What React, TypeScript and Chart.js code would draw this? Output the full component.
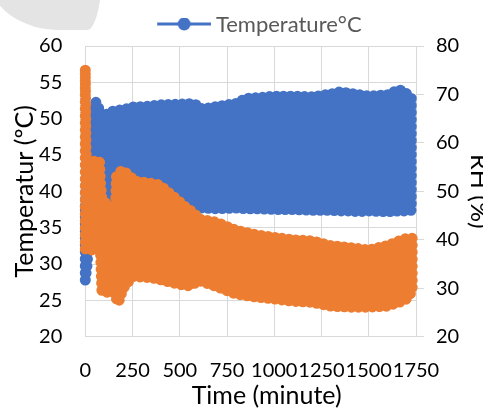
import React, { useEffect, useRef } from "react";
import { Chart, registerables } from "chart.js";

Chart.register(...registerables);

// ---- data ----
// Temperature (°C, left axis): upper / lower envelope of the dense oscillating series
const tempTime = [0, 10, 25, 57, 90, 140, 210, 250, 330, 400, 500, 575, 620, 700, 800, 850, 920, 1000, 1100, 1200, 1300, 1350, 1400, 1450, 1500, 1600, 1660, 1690, 1725];
const tempHigh = [38, 46, 50.5, 52.3, 50.3, 51.0, 51.3, 51.6, 51.7, 51.9, 52.0, 52.1, 51.3, 51.7, 52.1, 52.8, 52.9, 53.1, 53.1, 53.0, 53.4, 53.7, 53.5, 53.3, 53.1, 53.3, 54.0, 53.7, 52.8];
const tempLow = [27.8, 30.0, 37.5, 37.6, 37.6, 37.6, 37.6, 37.6, 37.6, 37.6, 37.6, 37.7, 37.7, 37.6, 37.7, 37.6, 37.6, 37.5, 37.5, 37.4, 37.4, 37.3, 37.3, 37.2, 37.3, 37.2, 37.3, 37.3, 37.4];

// RH (%, right axis): upper / lower envelope
const rhTime = [0, 1, 2, 3, 5, 30, 75, 80, 88, 110, 150, 160, 165, 175, 195, 210, 250, 263, 342, 395, 433, 486, 540, 570, 600, 697, 797, 898, 1000, 1100, 1200, 1300, 1400, 1500, 1597, 1676, 1700, 1730];
const rhHigh = [75, 69.5, 67.6, 61, 56.4, 56.2, 56.3, 52, 48.5, 47.5, 46.5, 47, 53.2, 53.6, 54.4, 54, 52.6, 52.1, 51.7, 51.3, 50.0, 48.3, 46.4, 45.8, 44.3, 43.6, 42.0, 41.1, 40.5, 40.0, 39.8, 38.8, 38.4, 37.9, 38.8, 40.0, 40.3, 40.3];
const rhLow = [38, 38, 38, 38, 38, 37.9, 37.9, 37.9, 29.2, 29.2, 29.2, 28.5, 27.8, 27.0, 29.4, 30.5, 32.4, 32.4, 32.2, 31.8, 31.4, 30.9, 30.5, 30.8, 31.6, 30.3, 28.8, 28.2, 27.8, 27.3, 27.1, 26.3, 26.1, 26.1, 26.3, 27.3, 27.8, 29.4];

const legendLabel = "Temperature°C";
const xTitle = "     Time (minute)";
const yTitle = "Temperatur (ºC)";
const y1Title = "RH (%)";

const BLUE = "#4472C4";
const ORANGE = "#ED7D31";
const GRID = "#d9d9d9";
const FONT = "Lato, 'Open Sans', sans-serif";

function makeLegendImage(): HTMLCanvasElement {
  const c = document.createElement("canvas");
  c.width = 96;
  c.height = 14;
  const ctx = c.getContext("2d")!;
  ctx.strokeStyle = BLUE;
  ctx.lineWidth = 3;
  ctx.beginPath();
  ctx.moveTo(42, 6);
  ctx.lineTo(96, 6);
  ctx.stroke();
  ctx.fillStyle = BLUE;
  ctx.beginPath();
  ctx.arc(69, 6, 6.5, 0, Math.PI * 2);
  ctx.fill();
  return c;
}

// closed outline of a band: upper envelope forward, lower envelope backward
function bandOutline(times: number[], high: number[], low: number[]) {
  const pts = times.map((x, i) => ({ x, y: high[i] }));
  for (let i = times.length - 1; i >= 0; i--) pts.push({ x: times[i], y: low[i] });
  pts.push({ x: times[0], y: high[0] });
  return pts;
}

// the band is filled, and its outline is stroked as a chain of round markers
function bandDataset(color: string, axis: string, label: string, times: number[], high: number[], low: number[], order: number) {
  return {
    label,
    data: bandOutline(times, high, low),
    yAxisID: axis,
    borderColor: color,
    backgroundColor: color,
    pointRadius: 0,
    pointHoverRadius: 0,
    borderWidth: 11,
    borderDash: [0, 7],
    borderJoinStyle: "round" as const,
    borderCapStyle: "round" as const,
    tension: 0,
    clip: false as any,
    fill: "shape" as any,
    order,
  };
}

export default function App() {
  const ref = useRef<HTMLCanvasElement>(null);

  useEffect(() => {
    const canvas = ref.current;
    if (!canvas) return;
    const img = makeLegendImage();
    const tickFont = { family: FONT, size: 20 };
    const titleFont = { family: FONT, size: 25, lineHeight: 1 };
    const chart = new Chart(canvas, {
      type: "line",
      data: {
        datasets: [
          bandDataset(BLUE, "y", legendLabel, tempTime, tempHigh, tempLow, 1),
          bandDataset(ORANGE, "y1", "RH", rhTime, rhHigh, rhLow, 0),
        ] as any,
      },
      options: {
        animation: false,
        responsive: false,
        events: [],
        layout: { padding: { top: -5, left: 0, right: 0, bottom: 0 } },
        plugins: {
          tooltip: { enabled: false },
          legend: {
            display: true,
            position: "top",
            labels: {
              usePointStyle: true,
              pointStyleWidth: 83.5,
              padding: 19,
              color: "#595959",
              font: { family: FONT, size: 22 },
              generateLabels: () => [
                {
                  text: legendLabel,
                  pointStyle: img as any,
                  fillStyle: BLUE,
                  strokeStyle: BLUE,
                  lineWidth: 0,
                  hidden: false,
                  datasetIndex: 0,
                  fontColor: "#595959",
                } as any,
              ],
            },
          },
        },
        scales: {
          x: {
            type: "linear",
            position: "bottom",
            min: 0,
            max: 1750,
            ticks: {
              stepSize: 250,
              autoSkip: false,
              maxRotation: 0,
              minRotation: 0,
              padding: 22,
              color: "#000",
              font: tickFont,
              callback: (v: any) => String(v),
            },
            grid: { color: GRID, drawTicks: false, lineWidth: 1 },
            border: { color: GRID },
            title: {
              display: true,
              text: xTitle,
              color: "#000",
              font: titleFont,
              padding: { top: 0, bottom: 0 },
            },
            afterFit: (s: any) => {
              s.height = 71.3;
            },
          },
          y: {
            type: "linear",
            position: "left",
            min: 20,
            max: 60,
            ticks: { stepSize: 5, padding: 23, color: "#000", font: tickFont },
            grid: { color: GRID, drawTicks: false, lineWidth: 1 },
            border: { color: GRID },
            title: {
              display: true,
              text: yTitle,
              color: "#000",
              font: titleFont,
              padding: { top: 12, bottom: 0 },
            },
            afterFit: (s: any) => {
              s.width = 85.3;
            },
          },
          y1: {
            type: "linear",
            position: "right",
            min: 20,
            max: 80,
            ticks: { stepSize: 10, padding: 12, color: "#000", font: tickFont },
            grid: { drawOnChartArea: false, drawTicks: true, tickLength: 8, color: GRID },
            border: { color: GRID },
            title: {
              display: true,
              text: y1Title,
              color: "#000",
              font: { family: FONT, size: 25, lineHeight: 0.33 },
              padding: { top: 0, bottom: 0 },
            },
            afterFit: (s: any) => {
              s.width = 67;
            },
          },
        },
      },
    });
    return () => chart.destroy();
  }, []);

  return (
    <div
      style={{
        position: "absolute",
        left: 0,
        top: 0,
        width: 483,
        height: 408,
        overflow: "hidden",
        background: "#ffffff",
      }}
    >
      <div
        style={{
          position: "absolute",
          left: -10,
          top: -40,
          width: 112,
          height: 70,
          background: "#e4e4e4",
          borderBottomLeftRadius: "70px 50px",
          borderBottomRightRadius: "15px 60px",
        }}
      />
      <canvas
        ref={ref}
        width={483}
        height={408}
        style={{ position: "absolute", left: 0, top: 0, width: 483, height: 408, display: "block" }}
      />
    </div>
  );
}
